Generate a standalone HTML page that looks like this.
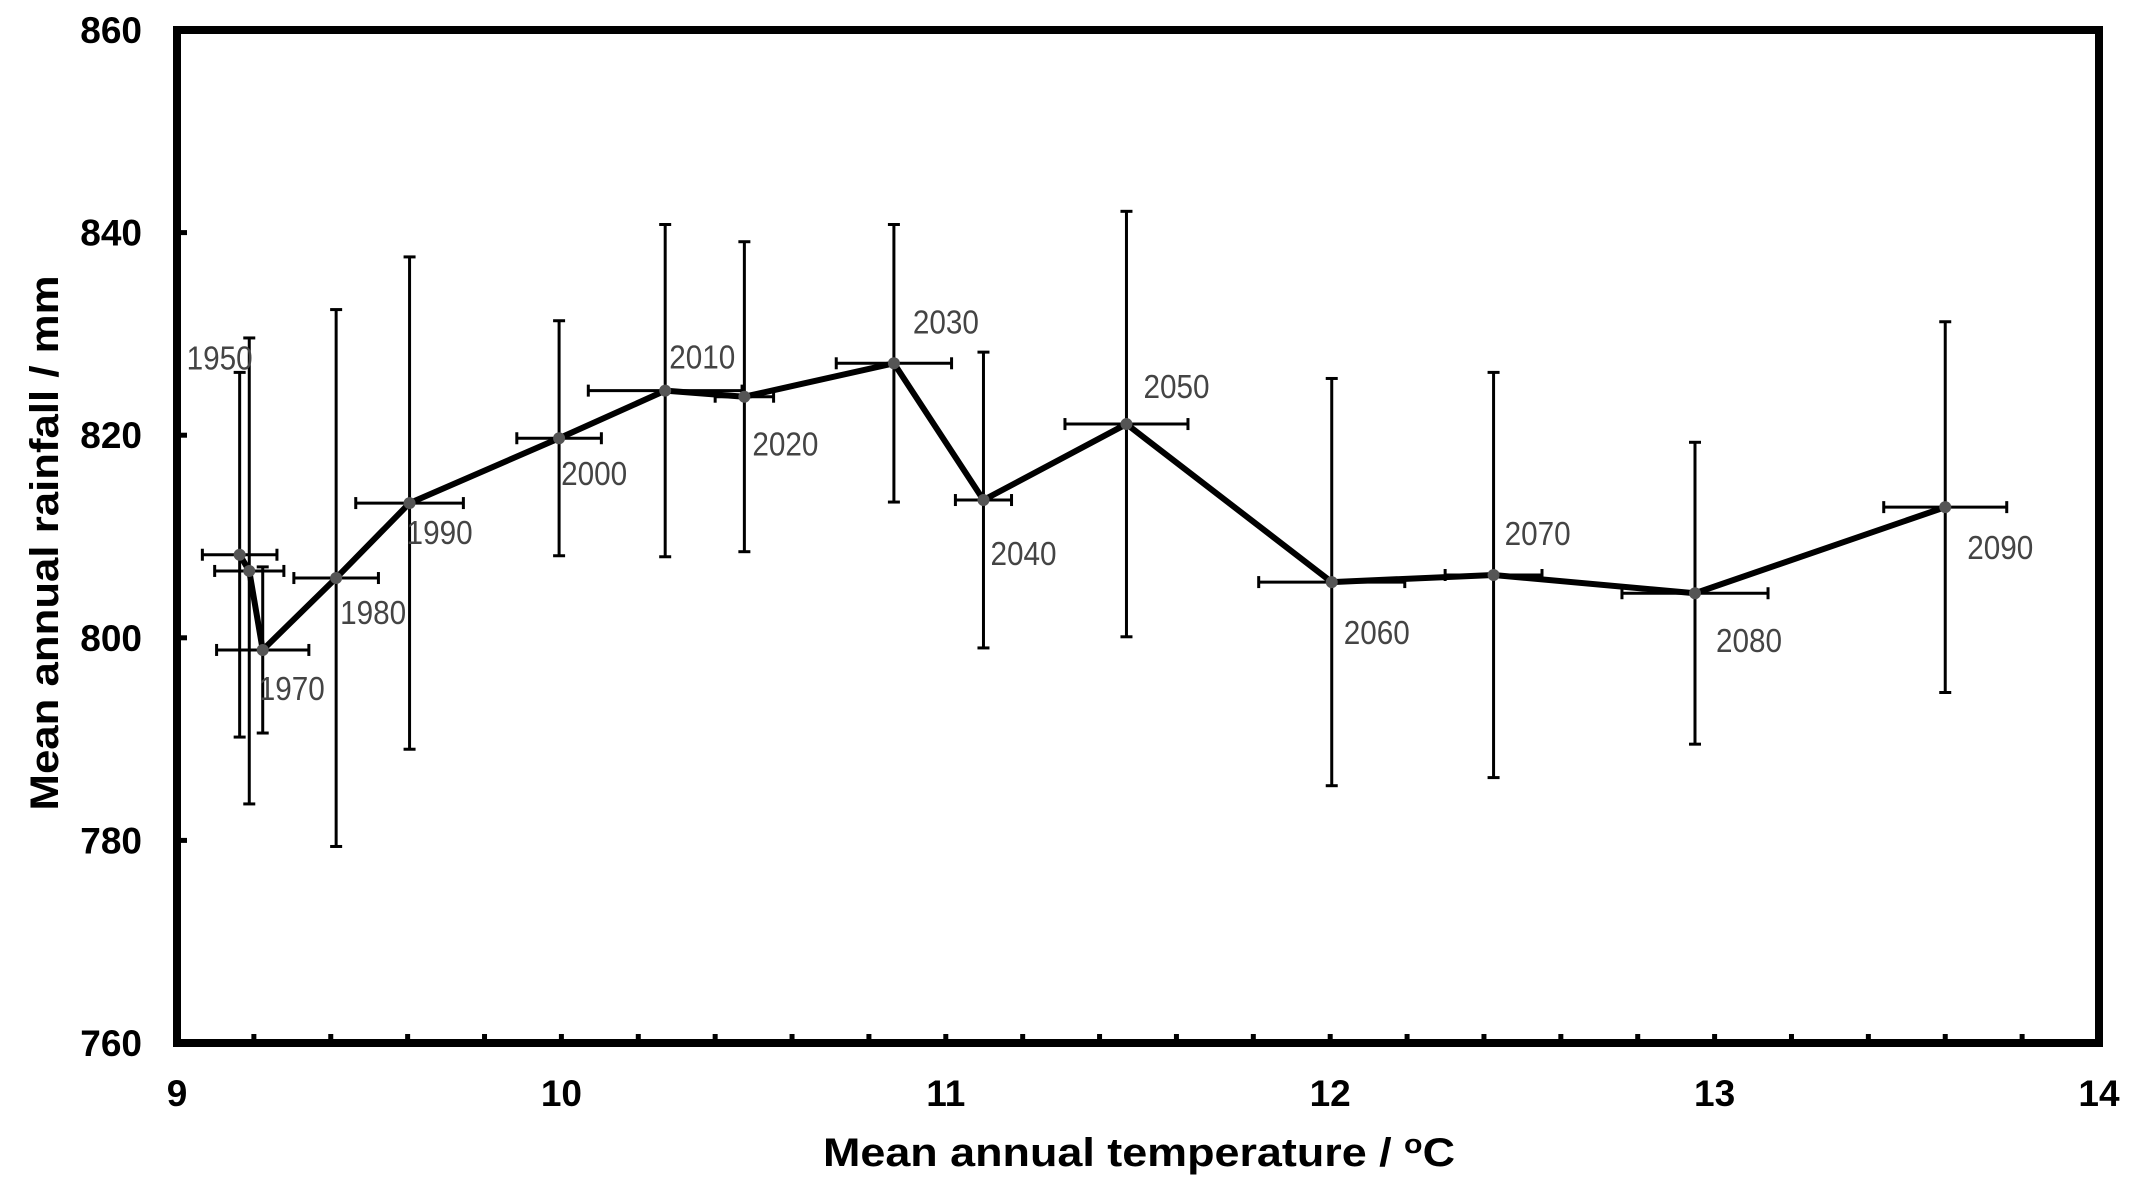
<!DOCTYPE html>
<html><head><meta charset="utf-8">
<style>
html,body{margin:0;padding:0;background:#fff;}
svg{display:block;}
text{font-family:"Liberation Sans",Arial,sans-serif;}
</style></head>
<body>
<svg id="chart" width="2133" height="1187" viewBox="0 0 2133 1187" xmlns="http://www.w3.org/2000/svg">
  <g id="grid"></g>
  <g id="marks"></g>
  <text x="1139" y="1166" text-anchor="middle" font-size="40" font-weight="bold" textLength="632" lengthAdjust="spacingAndGlyphs">Mean annual temperature / <tspan font-size="27" dy="-13">o</tspan><tspan dy="13">C</tspan></text>
  <text transform="translate(58,543) rotate(-90)" text-anchor="middle" font-size="40" font-weight="bold" textLength="535" lengthAdjust="spacingAndGlyphs">Mean annual rainfall / mm</text>
</svg>
<script>
const years = ["1950","1960","1970","1980","1990","2000","2010","2020","2030","2040","2050","2060","2070","2080","2090"];
const temps = [9.163,9.188,9.223,9.414,9.605,9.994,10.27,10.476,10.865,11.098,11.47,12.004,12.425,12.949,13.6];
const rain = [808.2,806.6,798.8,805.9,813.3,819.7,824.4,823.8,827.1,813.6,821.1,805.5,806.2,804.4,812.9];
const rainErr = [18,23,8.2,26.5,24.3,11.6,16.4,15.3,13.7,14.6,21,20.1,20,14.9,18.3];
const tempErr = [0.097,0.09,0.12,0.11,0.14,0.11,0.2,0.076,0.15,0.073,0.16,0.19,0.126,0.19,0.16];
const showLabel = [true,false,true,true,true,true,true,true,true,true,true,true,true,true,true];
const xTicks = [9,10,11,12,13,14];
const yTicks = [760,780,800,820,840,860];
// label offsets in px (style, not data)
const labelDx = [-53,0,-4,4,-3,2,4,8,19,7,17,12,11,21,22];
const labelDy = [-185,0,50,46,41,47,-22,59,-30,65,-26,62,-30,59,52];

const L=177,R=2099,T=30,B=1043;
const xMin=9,xMax=14,yMin=760,yMax=860;
const sx=v=>L+(v-xMin)/(xMax-xMin)*(R-L);
const sy=v=>B-(v-yMin)/(yMax-yMin)*(B-T);
const NS="http://www.w3.org/2000/svg";
function mk(tag,attrs,parent){const e=document.createElementNS(NS,tag);for(const k in attrs)e.setAttribute(k,attrs[k]);parent.appendChild(e);return e;}
const grid=document.getElementById('grid'), marks=document.getElementById('marks');

for(let v=9.2;v<14;v+=0.2){
  const t=mk('line',{x1:sx(v),x2:sx(v),y1:B,y2:B-9,stroke:'#000','stroke-width':5},grid);
  
  
}
yTicks.forEach(v=>{
  const t=mk('line',{x1:L,x2:L+10,y1:sy(v),y2:sy(v),stroke:'#000','stroke-width':5},grid);
  
  
  const lab=mk('text',{x:L-35,y:sy(v)+13,'text-anchor':'end','font-size':37,'font-weight':'bold'},grid);
  lab.textContent=v;
  
  
});
xTicks.forEach(v=>{
  const lab=mk('text',{x:sx(v),y:1106,'text-anchor':'middle','font-size':37,'font-weight':'bold'},grid);
  lab.textContent=v;
  
  
});
const frame=mk('rect',{x:L,y:T,width:R-L,height:B-T,fill:'none',stroke:'#000','stroke-width':8},grid);



temps.forEach((t,i)=>{
  const x=sx(t),y=sy(rain[i]);
  const y1=sy(rain[i]+rainErr[i]),y2=sy(rain[i]-rainErr[i]);
  const x1=sx(t-tempErr[i]),x2=sx(t+tempErr[i]);
  const g=mk('g',{stroke:'#000','stroke-width':3},marks);
  
  
  mk('line',{x1:x,x2:x,y1:y1,y2:y2},g);
  mk('line',{x1:x-6,x2:x+6,y1:y1,y2:y1},g);
  mk('line',{x1:x-6,x2:x+6,y1:y2,y2:y2},g);
  mk('line',{x1:x1,x2:x2,y1:y,y2:y},g);
  mk('line',{x1:x1,x2:x1,y1:y-6,y2:y+6},g);
  mk('line',{x1:x2,x2:x2,y1:y-6,y2:y+6},g);
});
const pts=temps.map((t,i)=>sx(t)+','+sy(rain[i])).join(' ');
const pl=mk('polyline',{points:pts,fill:'none',stroke:'#000','stroke-width':6,'stroke-linejoin':'round'},marks);


temps.forEach((t,i)=>{
  const c=mk('circle',{cx:sx(t),cy:sy(rain[i]),r:6,fill:'#555'},marks);
  
  
  if(showLabel[i]){
    const lx=sx(t)+labelDx[i], ly=sy(rain[i])+labelDy[i];
    const lab=mk('text',{transform:'translate('+lx+','+ly+') scale(0.9,1)','font-size':33,fill:'#444'},marks);
    lab.textContent=years[i];
    
    
  }
});
</script>
</body></html>
